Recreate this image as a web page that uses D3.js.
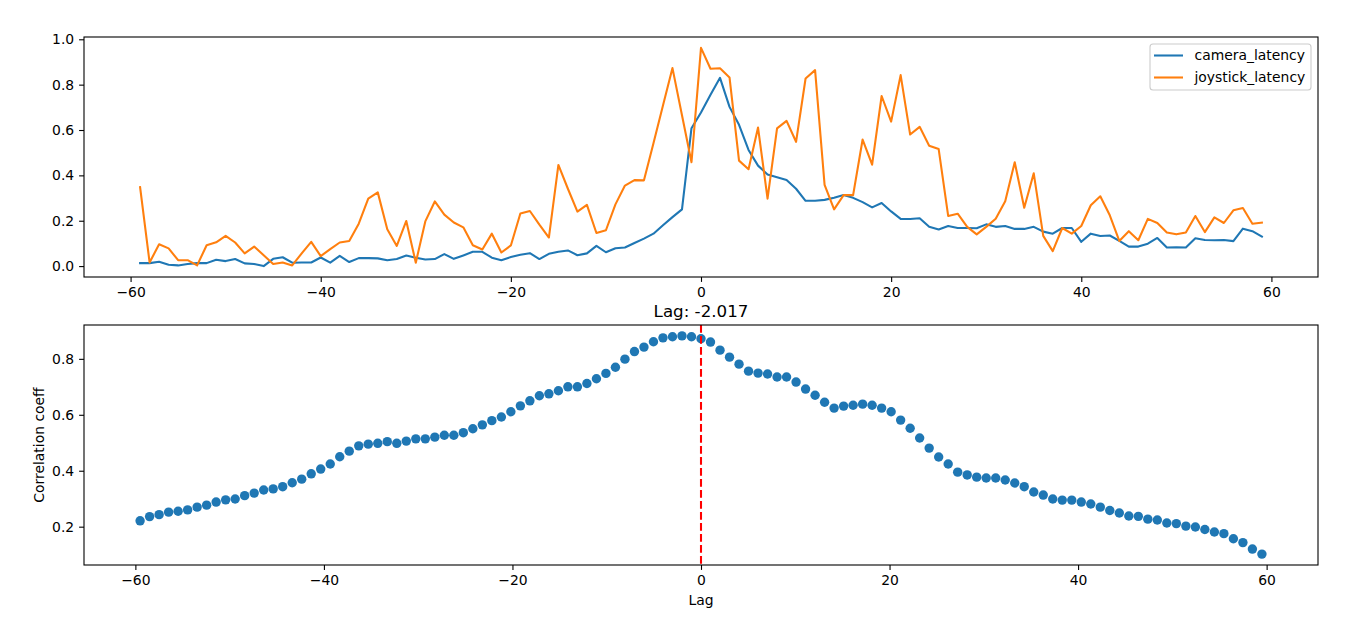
<!DOCTYPE html>
<html><head><meta charset="utf-8">
<script src="https://cdn.jsdelivr.net/npm/d3@7"></script>
<style>
body{margin:0;background:#fff}
svg{display:block}
text{font-family:"DejaVu Sans",sans-serif;fill:#000}
</style>
</head><body>
<svg id="chart" width="1351" height="617"></svg>
<script>
// ---------- data ----------
const lagsTop = d3.range(-59, 60); // integer lags -59 .. 59
const cameraLatency = [
0.013,0.013,0.019,0.006,0.003,0.009,0.013,0.013,0.028,0.022,
0.031,0.012,0.009,0.000,0.032,0.039,0.015,0.016,0.016,0.038,
0.015,0.045,0.018,0.035,0.035,0.034,0.026,0.031,0.047,0.037,
0.029,0.031,0.053,0.032,0.047,0.063,0.063,0.037,0.026,0.040,
0.050,0.057,0.031,0.054,0.063,0.069,0.048,0.056,0.089,0.061,
0.079,0.082,0.102,0.121,0.143,0.180,0.216,0.250,0.608,0.677,
0.755,0.830,0.702,0.623,0.512,0.443,0.404,0.392,0.380,0.341,
0.288,0.288,0.292,0.301,0.313,0.301,0.282,0.259,0.278,0.241,
0.208,0.208,0.211,0.173,0.161,0.177,0.168,0.168,0.167,0.184,
0.173,0.177,0.164,0.164,0.173,0.152,0.143,0.168,0.168,0.107,
0.143,0.133,0.135,0.111,0.086,0.086,0.099,0.124,0.082,0.083,
0.082,0.123,0.115,0.114,0.115,0.110,0.165,0.154,0.130];
const joystickLatency = [
0.348,0.016,0.096,0.078,0.026,0.026,0.003,0.092,0.105,0.133,
0.104,0.056,0.086,0.048,0.009,0.016,0.003,0.056,0.107,0.044,
0.075,0.104,0.111,0.187,0.297,0.325,0.162,0.089,0.199,0.015,
0.197,0.285,0.227,0.192,0.171,0.092,0.073,0.143,0.060,0.091,
0.232,0.243,0.183,0.126,0.446,0.341,0.240,0.270,0.146,0.158,
0.272,0.355,0.379,0.378,0.542,0.708,0.873,0.665,0.458,0.962,
0.870,0.872,0.832,0.465,0.427,0.611,0.297,0.607,0.640,0.548,
0.827,0.864,0.358,0.250,0.313,0.313,0.558,0.447,0.750,0.637,
0.842,0.580,0.614,0.531,0.516,0.221,0.231,0.173,0.140,0.173,
0.209,0.286,0.458,0.257,0.409,0.133,0.066,0.168,0.143,0.177,
0.268,0.308,0.224,0.111,0.154,0.114,0.208,0.190,0.148,0.140,
0.148,0.221,0.150,0.215,0.190,0.246,0.256,0.187,0.192];
const seriesNames = ["camera_latency", "joystick_latency"];
const seriesColors = ["#1f77b4", "#ff7f0e"];

const corrLagStart = -59.5, corrLagEnd = 59.5;
const corrCoeff = [
0.221,0.236,0.243,0.252,0.255,0.260,0.270,0.277,0.288,0.296,
0.299,0.311,0.320,0.331,0.335,0.343,0.357,0.370,0.389,0.406,
0.424,0.450,0.470,0.489,0.495,0.498,0.504,0.498,0.506,0.514,
0.514,0.520,0.527,0.527,0.536,0.550,0.564,0.579,0.592,0.611,
0.632,0.650,0.668,0.675,0.686,0.700,0.700,0.712,0.729,0.748,
0.770,0.799,0.826,0.842,0.861,0.875,0.879,0.882,0.879,0.872,
0.860,0.831,0.806,0.781,0.756,0.749,0.746,0.735,0.735,0.717,
0.692,0.670,0.645,0.624,0.631,0.634,0.638,0.634,0.624,0.611,
0.581,0.552,0.517,0.481,0.449,0.424,0.395,0.385,0.377,0.374,
0.374,0.367,0.356,0.343,0.324,0.313,0.299,0.295,0.295,0.288,
0.281,0.270,0.258,0.249,0.238,0.237,0.227,0.224,0.213,0.211,
0.202,0.199,0.190,0.181,0.175,0.157,0.143,0.120,0.102];
const corrLags = corrCoeff.map((_, i) => corrLagStart + i * (corrLagEnd - corrLagStart) / (corrCoeff.length - 1));
const markerLag = 0;
const titleText = "Lag: -2.017";
const xLabelText = "Lag";
const yLabelText = "Correlation coeff";
const xTicks = [-60, -40, -20, 0, 20, 40, 60];
const topYTicks = [0, 0.2, 0.4, 0.6, 0.8, 1.0];
const bottomYTicks = [0.2, 0.4, 0.6, 0.8];

// ---------- layout ----------
const svg = d3.select("#chart");
const L = 84, R = 1318;
const top1 = 37, bot1 = 277, top2 = 325, bot2 = 565;
const FS = 13.9, TICK = 4.9, PAD = 4.9;
const pad = ([a, b]) => [a - 0.05 * (b - a), b + 0.05 * (b - a)];

function drawAxes(g, x, y, yt, top, bot) {
  g.append("g").attr("transform", `translate(0,${bot})`)
    .call(d3.axisBottom(x).tickValues(xTicks).tickFormat(d3.format("d")).tickSize(TICK).tickPadding(PAD))
    .call(s => { s.select(".domain").remove(); s.selectAll("text").style("font-size", FS + "px").attr("font-family", "DejaVu Sans"); s.selectAll("line").attr("stroke", "#000").attr("stroke-width", 1.1); });
  g.append("g").attr("transform", `translate(${L},0)`)
    .call(d3.axisLeft(y).tickValues(yt).tickFormat(d3.format(".1f")).tickSize(TICK).tickPadding(PAD))
    .call(s => { s.select(".domain").remove(); s.selectAll("text").style("font-size", FS + "px").attr("font-family", "DejaVu Sans"); s.selectAll("line").attr("stroke", "#000").attr("stroke-width", 1.1); });
  g.append("rect").attr("x", L).attr("y", top).attr("width", R - L).attr("height", bot - top)
    .attr("fill", "none").attr("stroke", "#000").attr("stroke-width", 1.1);
}

// ---------- top panel ----------
const x1 = d3.scaleLinear().domain(pad(d3.extent(lagsTop))).range([L, R]);
const allTop = cameraLatency.concat(joystickLatency);
const y1 = d3.scaleLinear().domain(pad([d3.min(allTop), d3.max(allTop)])).range([bot1, top1]);
const g1 = svg.append("g");
const line1 = d3.line().x((d, i) => x1(lagsTop[i])).y(d => y1(d));
[cameraLatency, joystickLatency].forEach((s, k) => {
  g1.append("path").datum(s).attr("d", line1).attr("fill", "none")
    .attr("stroke", seriesColors[k]).attr("stroke-width", 2.08).attr("stroke-linejoin", "round").attr("stroke-linecap", "square");
});
drawAxes(g1, x1, y1, topYTicks, top1, bot1);

// legend
const lg = g1.append("g");
const lgW = 161, lgH = 46;
const lgX = R - 7 - lgW, lgY = top1 + 7;
lg.append("rect").attr("x", lgX).attr("y", lgY).attr("width", lgW).attr("height", lgH)
  .attr("rx", 3).attr("fill", "#fff").attr("fill-opacity", 0.8).attr("stroke", "#cccccc").attr("stroke-width", 1.1);
seriesNames.forEach((n, k) => {
  const yy = lgY + 11.5 + k * 22;
  lg.append("line").attr("x1", lgX + 4).attr("x2", lgX + 33).attr("y1", yy).attr("y2", yy)
    .attr("stroke", seriesColors[k]).attr("stroke-width", 2.08);
  lg.append("text").attr("x", lgX + 44.5).attr("y", yy).attr("dy", "0.35em")
    .style("font-size", FS + "px").text(n);
});

// ---------- bottom panel ----------
const x2 = d3.scaleLinear().domain(pad(d3.extent(corrLags))).range([L, R]);
const y2 = d3.scaleLinear().domain(pad(d3.extent(corrCoeff))).range([bot2, top2]);
const g2 = svg.append("g");
g2.selectAll("circle").data(corrCoeff).join("circle")
  .attr("cx", (d, i) => x2(corrLags[i])).attr("cy", d => y2(d)).attr("r", 4.7)
  .attr("fill", seriesColors[0]);
g2.append("line").attr("x1", x2(markerLag)).attr("x2", x2(markerLag)).attr("y1", top2).attr("y2", bot2)
  .attr("stroke", "red").attr("stroke-width", 2.08).attr("stroke-dasharray", "7.7,3.3");
drawAxes(g2, x2, y2, bottomYTicks, top2, bot2);

svg.append("text").attr("x", (L + R) / 2).attr("y", top2 - 8.3).attr("text-anchor", "middle")
  .style("font-size", "16.7px").text(titleText);
svg.append("text").attr("x", (L + R) / 2).attr("y", 605).attr("text-anchor", "middle")
  .style("font-size", FS + "px").text(xLabelText);
svg.append("text").attr("transform", `translate(44,${(top2 + bot2) / 2}) rotate(-90)`).attr("text-anchor", "middle")
  .style("font-size", FS + "px").text(yLabelText);
</script>
</body></html>
